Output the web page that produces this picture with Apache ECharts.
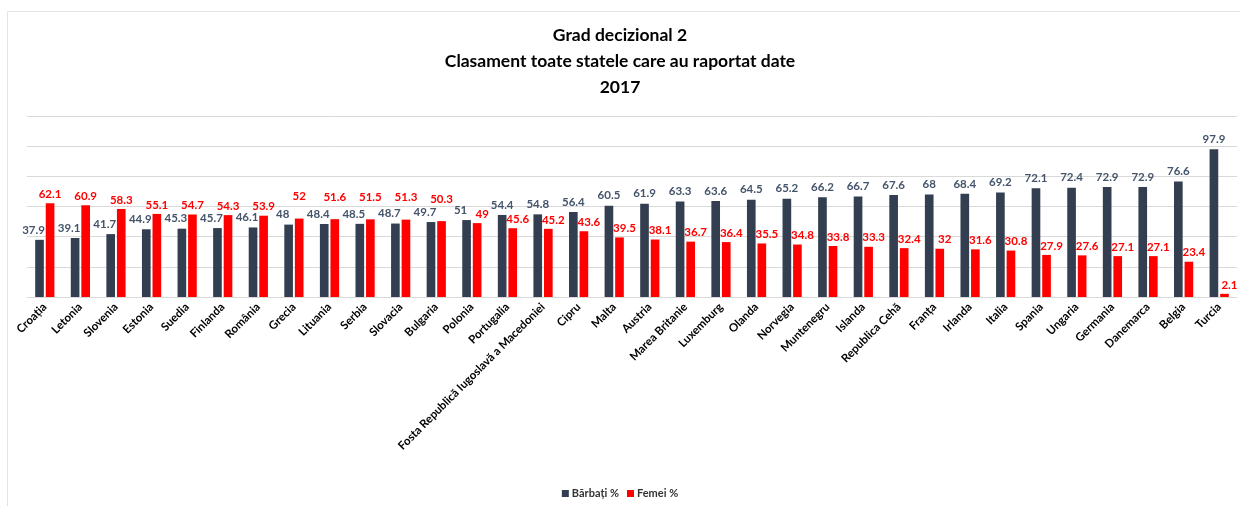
<!DOCTYPE html>
<html>
<head>
<meta charset="utf-8">
<script src="https://cdn.jsdelivr.net/npm/echarts@6/dist/echarts.min.js"></script>
<style>
html,body{margin:0;padding:0;background:#fff;}
#c{width:1240px;height:506px;}
</style>
</head>
<body>
<div id="c"></div>
<script>
const categories = ["Croația","Letonia","Slovenia","Estonia","Suedia","Finlanda","România","Grecia","Lituania","Serbia","Slovacia","Bulgaria","Polonia","Portugalia","Fosta Republică Iugoslavă a Macedoniei","Cipru","Malta","Austria","Marea Britanie","Luxemburg","Olanda","Norvegia","Muntenegru","Islanda","Republica Cehă","Franța","Irlanda","Italia","Spania","Ungaria","Germania","Danemarca","Belgia","Turcia"];
const barbati = [37.9,39.1,41.7,44.9,45.3,45.7,46.1,48,48.4,48.5,48.7,49.7,51,54.4,54.8,56.4,60.5,61.9,63.3,63.6,64.5,65.2,66.2,66.7,67.6,68,68.4,69.2,72.1,72.4,72.9,72.9,76.6,97.9];
const femei = [62.1,60.9,58.3,55.1,54.7,54.3,53.9,52,51.6,51.5,51.3,50.3,49,45.6,45.2,43.6,39.5,38.1,36.7,36.4,35.5,34.8,33.8,33.3,32.4,32,31.6,30.8,27.9,27.6,27.1,27.1,23.4,2.1];
const titleLines = ["Grad decizional 2","Clasament toate statele care au raportat date","2017"];
const seriesNames = ["Bărbați %","Femei %"];

const FONT = "Lato, 'Liberation Sans', sans-serif";
const chart = echarts.init(document.getElementById('c'), null, {renderer:'canvas'});
chart.setOption({
  backgroundColor:'#fff',
  animation:false,
  graphic:[{type:'rect',shape:{x:7.5,y:11.5,width:1240,height:600},style:{fill:'none',stroke:'#e3e3e3',lineWidth:1},silent:true,z:-1}],
  title:{
    text: titleLines.join('\n'),
    left:'center', top:17,
    textStyle:{fontFamily:FONT,fontSize:17.5,fontWeight:'bold',color:'#000',lineHeight:26}
  },
  legend:{
    bottom:2, left:'center',
    itemWidth:7, itemHeight:7, itemGap:8,
    icon:'rect',
    textStyle:{fontFamily:FONT,fontSize:11,fontWeight:'bold',color:'#333',padding:[0,0,0,-2]},
    data: seriesNames
  },
  grid:{left:27,right:3,top:116,bottom:209},
  xAxis:{
    type:'category', data:categories,
    axisLine:{show:true,lineStyle:{color:'#d9d9d9'}},
    axisTick:{show:false},
    axisLabel:{rotate:45,interval:0,fontFamily:FONT,fontSize:11.5,fontWeight:'bold',color:'#000',margin:8}
  },
  yAxis:{
    type:'value', min:0, max:120, interval:20,
    axisLabel:{show:false}, axisLine:{show:false}, axisTick:{show:false},
    splitLine:{lineStyle:{color:'#d9d9d9'}}
  },
  series:[
    {name:seriesNames[0],type:'bar',data:barbati,barGap:'22%',barCategoryGap:'46%',z:3,
     itemStyle:{color:'#333F50'},
     label:{show:true,position:'top',distance:4,fontFamily:FONT,fontSize:11.5,fontWeight:'bold',color:'#44546A'},
     labelLayout:function(p){ const i=p.dataIndex; return (barbati[i] < femei[i]+3) ? {dx:-6} : {}; }},
    {name:seriesNames[1],type:'bar',data:femei,z:2,
     itemStyle:{color:'#FF0000'},
     label:{show:true,position:'top',distance:3,fontFamily:FONT,fontSize:11.5,fontWeight:'bold',color:'#FF0000'},
     labelLayout:function(p){ const i=p.dataIndex; const d=femei[i]-barbati[i];
       if (d < 0) return {dx:5};
       if (d < 5) return {dy:-13};
       return {}; }}
  ]
});
</script>
</body>
</html>
